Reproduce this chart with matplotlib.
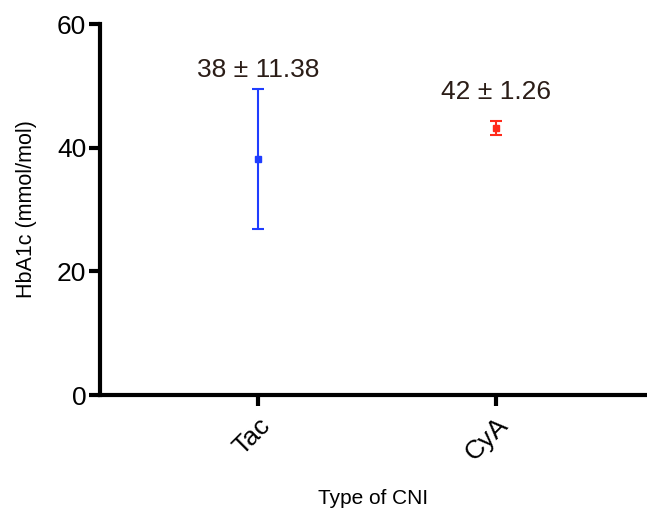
import numpy as np
import matplotlib.pyplot as plt

plt.rcParams['font.family'] = ['Liberation Sans', 'DejaVu Sans']

# data
groups = ["Tac", "CyA"]
means = [38.2, 43.2]
errors = [11.3, 1.15]
labels = ["38 ± 11.38", "42 ± 1.26"]
colors = ["#1f3dff", "#ff2a1a"]
label_offsets = [3.1, 4.6]

fig = plt.figure(figsize=(6.47, 5.12), dpi=100)
ax = fig.add_axes([0.1546, 0.2285, 0.8454, 0.7245])

x = np.arange(len(groups))
for i in range(len(groups)):
    ax.errorbar(x[i], means[i], yerr=errors[i], fmt='s', color=colors[i],
                markersize=5, elinewidth=1.5, capsize=4, capthick=1.5)
    ax.text(x[i], means[i] + errors[i] + label_offsets[i], labels[i],
            ha='center', va='center', fontsize=19, color='#2b1d17')

ax.set_xlim(-0.664, 1.634)
ax.set_ylim(0, 60)
ax.set_yticks([0, 20, 40, 60])
ax.set_xticks(x)
ax.set_xticklabels(groups, rotation=45, ha='right', rotation_mode='anchor')

for s in ['top', 'right']:
    ax.spines[s].set_visible(False)
for s in ['left', 'bottom']:
    ax.spines[s].set_linewidth(3)
ax.tick_params(axis='both', width=3, length=8, labelsize=19, pad=2)
ax.tick_params(axis='x', pad=5)

ax.set_ylabel("HbA1c (mmol/mol)", fontsize=15.5, labelpad=14)
ax.set_xlabel("Type of CNI", fontsize=15, labelpad=17)

fig.savefig("out.png", dpi=100)
